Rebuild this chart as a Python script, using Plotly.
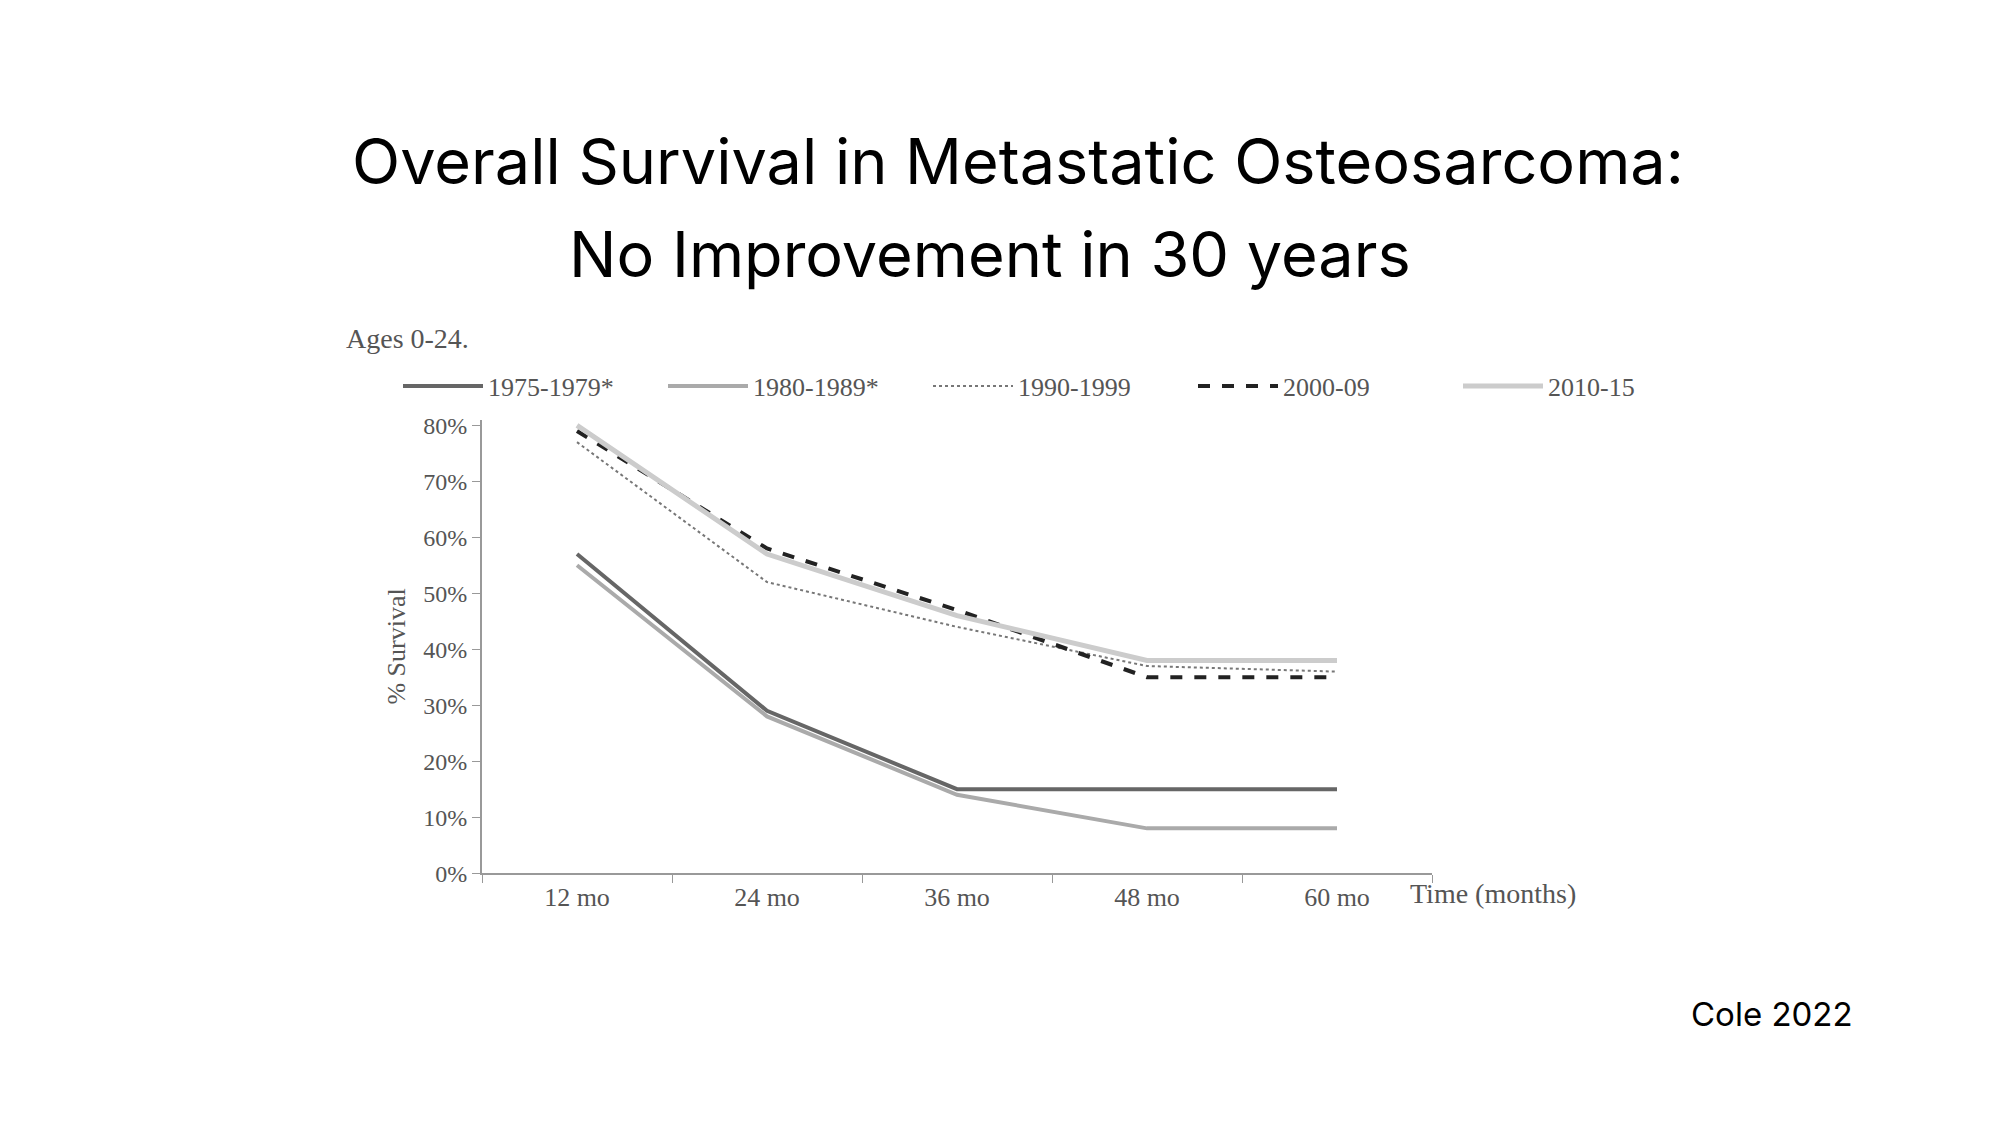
import plotly.graph_objects as go

months = ["12 mo", "24 mo", "36 mo", "48 mo", "60 mo"]
s_1975 = [57, 29, 15, 15, 15]
s_1980 = [55, 28, 14, 8, 8]
s_1990 = [77, 52, 44, 37, 36]
s_2000 = [79, 58, 47, 35, 35]
s_2010 = [80, 57, 46, 38, 38]
y_ticks = [0, 10, 20, 30, 40, 50, 60, 70, 80]

serif = "Liberation Serif"

fig = go.Figure()
fig.add_trace(go.Scatter(x=months, y=s_1975, mode="lines", name="1975-1979*",
                         line=dict(color="#666666", width=4)))
fig.add_trace(go.Scatter(x=months, y=s_1980, mode="lines", name="1980-1989*",
                         line=dict(color="#aaaaaa", width=4)))
fig.add_trace(go.Scatter(x=months, y=s_1990, mode="lines", name="1990-1999",
                         line=dict(color="#777777", width=2, dash="dot")))
fig.add_trace(go.Scatter(x=months, y=s_2000, mode="lines", name="2000-09",
                         line=dict(color="#222222", width=4, dash="dash")))
fig.add_trace(go.Scatter(x=months, y=s_2010, mode="lines", name="2010-15",
                         line=dict(color="#cccccc", width=5)))

fig.update_layout(
    width=2000, height=1125,
    paper_bgcolor="white", plot_bgcolor="white",
    margin=dict(l=0, r=0, t=0, b=0, autoexpand=False),
    font=dict(family=serif, color="#444444", size=24),
    xaxis=dict(domain=[0.237, 0.712], range=[-0.5, 4.5], type="category",
               showline=True, linecolor="#999999", linewidth=2,
               tickson="boundaries", ticks="outside", ticklen=8, tickcolor="#999999",
               showgrid=False, tickfont=dict(size=26, family=serif, color="#555555")),
    yaxis=dict(domain=[0.231, 0.634], range=[0, 81], tickvals=y_ticks,
               ticktext=[f"{v}%" for v in y_ticks],
               showline=True, linecolor="#999999", linewidth=2,
               ticks="outside", ticklen=8, tickcolor="#999999", showgrid=False,
               tickfont=dict(size=24, family=serif, color="#555555"),
               title=dict(text="% Survival", font=dict(size=26, family=serif, color="#555555"),
                          standoff=10)),
    legend=dict(orientation="h", x=0.195, y=0.664, yanchor="middle", xanchor="left",
                font=dict(size=26, family=serif, color="#555555"), itemwidth=80,
                entrywidthmode="pixels", entrywidth=170),
    showlegend=True,
)

fig.add_annotation(text="Overall Survival in Metastatic Osteosarcoma:", x=0.505, y=1 - 113 / 1125,
                   xref="paper", yref="paper", showarrow=False,
                   font=dict(family="Inter", size=63, color="black"))
fig.add_annotation(text="No Improvement in 30 years", x=0.491, y=1 - 206 / 1125,
                   xref="paper", yref="paper", showarrow=False,
                   font=dict(family="Inter", size=63, color="black"))
fig.add_annotation(text="Cole 2022", x=1847 / 2000, y=1 - 1028 / 1125,
                   xref="paper", yref="paper", showarrow=False,
                   font=dict(family="Inter", size=33, color="black"))
fig.add_annotation(text="Ages 0-24.", x=336 / 2000, y=1 - 313 / 1125, xanchor="left",
                   xref="paper", yref="paper", showarrow=False,
                   font=dict(family=serif, size=28, color="#555555"))
fig.add_annotation(text="Time (months)", x=1570 / 2000, y=1 - 903 / 1125,
                   xref="paper", yref="paper", showarrow=False,
                   font=dict(family=serif, size=28, color="#555555"))

fig.write_html("out.html")
